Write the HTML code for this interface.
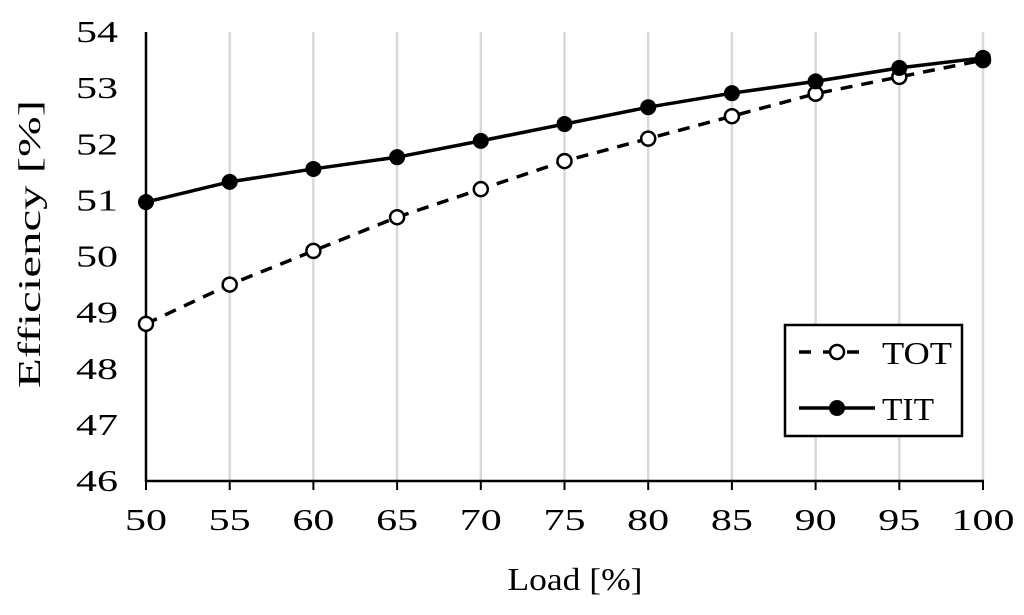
<!DOCTYPE html>
<html><head><meta charset="utf-8"><style>
html,body{margin:0;padding:0;background:#fff}
svg text{font-family:"Liberation Serif",serif;fill:#000}
</style></head><body>
<svg width="1024" height="610" viewBox="0 0 1024 610">
<g id="grid"></g><g id="axes"></g><g id="series"></g>
<text x="575" y="590" font-size="32" text-anchor="middle" textLength="135" lengthAdjust="spacingAndGlyphs">Load [%]</text>
<text transform="translate(40,244) rotate(-90)" font-size="32" text-anchor="middle" textLength="288" lengthAdjust="spacingAndGlyphs">Efficiency [%]</text>
<g>
<rect x="785" y="325" width="177" height="111" fill="#fff" stroke="#000" stroke-width="2.5"/>
<line x1="799" y1="352" x2="860" y2="352" stroke="#000" stroke-width="3.5" stroke-dasharray="12,12"/>
<circle cx="837" cy="352" r="7" fill="#fff" stroke="#000" stroke-width="2.5"/>
<text x="882" y="364" font-size="32" textLength="70" lengthAdjust="spacingAndGlyphs">TOT</text>
<line x1="799" y1="408" x2="875" y2="408" stroke="#000" stroke-width="3.5"/>
<circle cx="837" cy="408" r="8" fill="#000"/>
<text x="882" y="420" font-size="32" textLength="52" lengthAdjust="spacingAndGlyphs">TIT</text>
</g>
</svg>
<script>
const loads=[50,55,60,65,70,75,80,85,90,95,100];
const tot=[48.8,49.5,50.1,50.7,51.2,51.7,52.1,52.5,52.9,53.2,53.5];
const tit=[50.97,51.33,51.56,51.77,52.06,52.36,52.66,52.91,53.12,53.36,53.54];
const yTicks=[46,47,48,49,50,51,52,53,54];
const NS="http://www.w3.org/2000/svg";
const xs=v=>146+(v-50)*(983-146)/50;
const ys=v=>481-(v-46)*(481-32)/8;
function mk(p,t,a){const e=document.createElementNS(NS,t);for(const k in a)e.setAttribute(k,a[k]);p.appendChild(e);return e;}
const grid=document.getElementById('grid'),axes=document.getElementById('axes'),ser=document.getElementById('series');
loads.forEach(v=>{
 if(v>50){const g=mk(grid,'line',{x1:xs(v),y1:32,x2:xs(v),y2:481,stroke:'#d9d9d9','stroke-width':2.5});
 
 }
 mk(axes,'line',{x1:xs(v),y1:481,x2:xs(v),y2:490,stroke:'#000','stroke-width':2});
 const s=String(v);
 const t=mk(axes,'text',{x:xs(v),y:530,'font-size':31,'text-anchor':'middle',textLength:s.length*21,lengthAdjust:'spacingAndGlyphs'});t.textContent=s;
 
 
});
yTicks.forEach(v=>{
 const t=mk(axes,'text',{x:118,y:ys(v)+10,'font-size':31,'text-anchor':'end',textLength:42,lengthAdjust:'spacingAndGlyphs'});t.textContent=v;
 
 
});
mk(axes,'line',{x1:146,y1:32,x2:146,y2:482,stroke:'#000','stroke-width':2.5});
mk(axes,'line',{x1:145,y1:481,x2:984,y2:481,stroke:'#000','stroke-width':2.5});
const pt=(arr)=>arr.map((v,i)=>xs(loads[i])+','+ys(v)).join(' ');
const l1=mk(ser,'polyline',{points:pt(tot),fill:'none',stroke:'#000','stroke-width':3.5,'stroke-dasharray':'12,9'});


const l2=mk(ser,'polyline',{points:pt(tit),fill:'none',stroke:'#000','stroke-width':3.5});


tot.forEach((v,i)=>{const c=mk(ser,'circle',{cx:xs(loads[i]),cy:ys(v),r:7,fill:'#fff',stroke:'#000','stroke-width':2.5});
 
 });
tit.forEach((v,i)=>{const c=mk(ser,'circle',{cx:xs(loads[i]),cy:ys(v),r:8,fill:'#000'});
 
 });
</script>
</body></html>
